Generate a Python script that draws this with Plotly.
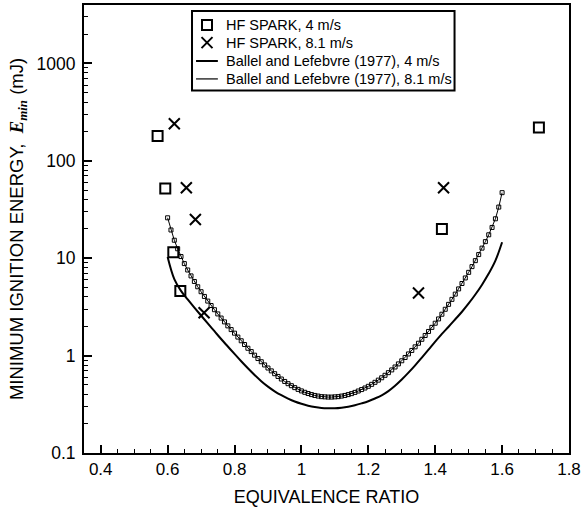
import plotly.graph_objects as go

# ---------------- data ----------------
phi_hf_4 = [0.57, 0.593, 0.617, 0.638, 1.42, 1.71]
e_hf_4 = [180, 52, 11.5, 4.6, 20, 220]

phi_hf_81 = [0.62, 0.656, 0.683, 0.709, 1.35, 1.425]
e_hf_81 = [240, 53, 25, 2.75, 4.4, 53]

phi_bl_4 = [0.60, 0.62, 0.64, 0.66, 0.68, 0.70, 0.72, 0.74, 0.76, 0.78,
            0.80, 0.82, 0.84, 0.86, 0.88, 0.90, 0.92, 0.94, 0.96, 0.98,
            1.00, 1.02, 1.04, 1.06, 1.08, 1.10, 1.12, 1.14, 1.16, 1.18,
            1.20, 1.22, 1.24, 1.26, 1.28, 1.30, 1.32, 1.34, 1.36, 1.38,
            1.40, 1.42, 1.44, 1.46, 1.48, 1.50, 1.52, 1.54, 1.56, 1.58, 1.60]
e_bl_4 = [10.3, 6.10, 4.62, 3.77, 3.11, 2.58, 2.14, 1.78, 1.48, 1.24,
          1.04, 0.875, 0.741, 0.632, 0.546, 0.480, 0.430, 0.392, 0.362, 0.338,
          0.320, 0.306, 0.296, 0.290, 0.288, 0.288, 0.292, 0.299, 0.309, 0.323,
          0.340, 0.363, 0.391, 0.432, 0.490, 0.568, 0.668, 0.794, 0.953, 1.15,
          1.39, 1.67, 1.98, 2.36, 2.82, 3.43, 4.24, 5.35, 6.95, 9.44, 14.6]

phi_bl_81 = [0.60, 0.61, 0.62, 0.63, 0.64, 0.65, 0.66, 0.67, 0.68, 0.69,
             0.70, 0.71, 0.72, 0.73, 0.74, 0.75, 0.76, 0.77, 0.78, 0.79,
             0.80, 0.81, 0.82, 0.83, 0.84, 0.85, 0.86, 0.87, 0.88, 0.89,
             0.90, 0.91, 0.92, 0.93, 0.94, 0.95, 0.96, 0.97, 0.98, 0.99,
             1.00, 1.01, 1.02, 1.03, 1.04, 1.05, 1.06, 1.07, 1.08, 1.09,
             1.10, 1.11, 1.12, 1.13, 1.14, 1.15, 1.16, 1.17, 1.18, 1.19,
             1.20, 1.21, 1.22, 1.23, 1.24, 1.25, 1.26, 1.27, 1.28, 1.29,
             1.30, 1.31, 1.32, 1.33, 1.34, 1.35, 1.36, 1.37, 1.38, 1.39,
             1.40, 1.41, 1.42, 1.43, 1.44, 1.45, 1.46, 1.47, 1.48, 1.49,
             1.50, 1.51, 1.52, 1.53, 1.54, 1.55, 1.56, 1.57, 1.58, 1.59, 1.60]
e_bl_81 = [26.0, 19.5, 15.3, 12.5, 10.4, 8.81, 7.57, 6.58, 5.77, 5.09,
           4.53, 4.05, 3.63, 3.27, 2.96, 2.68, 2.43, 2.22, 2.02, 1.85,
           1.70, 1.55, 1.42, 1.30, 1.19, 1.10, 1.01, 0.933, 0.865, 0.802,
           0.746, 0.697, 0.652, 0.611, 0.575, 0.543, 0.515, 0.491, 0.469, 0.450,
           0.434, 0.420, 0.408, 0.398, 0.390, 0.384, 0.379, 0.377, 0.375, 0.375,
           0.377, 0.379, 0.384, 0.390, 0.398, 0.407, 0.419, 0.433, 0.448, 0.465,
           0.484, 0.507, 0.532, 0.560, 0.592, 0.628, 0.668, 0.713, 0.764, 0.822,
           0.885, 0.957, 1.04, 1.13, 1.23, 1.34, 1.47, 1.61, 1.77, 1.95,
           2.15, 2.38, 2.66, 2.99, 3.36, 3.78, 4.28, 4.84, 5.50, 6.27,
           7.16, 8.20, 9.44, 10.9, 12.7, 14.8, 17.4, 20.7, 25.4, 33.5, 47.1]

series_names = ["HF SPARK, 4 m/s", "HF SPARK, 8.1 m/s",
                "Ballel and Lefebvre (1977), 4 m/s",
                "Ballel and Lefebvre (1977), 8.1 m/s"]

y_tick_vals = [0.1, 1, 10, 100, 1000]
y_tick_text = ["0.1", "1", "10", "100", "1000"]
y_minor_vals = [m * d for d in [0.1, 1, 10, 100, 1000] for m in range(2, 10)]
x_tick_vals = [0.4, 0.6, 0.8, 1.0, 1.2, 1.4, 1.6, 1.8]
x_tick_text = ["0.4", "0.6", "0.8", "1", "1.2", "1.4", "1.6", "1.8"]

FONT = "Liberation Sans, Arial, Helvetica, sans-serif"

# legend layout (fractions of the plotting area)
LEG_BOX = dict(x0=0.2227, x1=0.7640, y0=0.809, y1=0.9867)
LEG_ROWS = [0.9556, 0.9160, 0.8750, 0.8350]
LEG_SYM_X = 0.2536
LEG_LINE_X = [0.2310, 0.2760]
LEG_TEXT_X = 0.2887

sq_marker = dict(symbol="square-open", size=10, color="black",
                 line=dict(width=2, color="black"))
x_marker = dict(symbol="x-thin-open", size=11, color="black",
                line=dict(width=2, color="black"))

fig = go.Figure()
fig.add_trace(go.Scatter(x=phi_hf_4, y=e_hf_4, mode="markers",
                         name=series_names[0], marker=sq_marker))
fig.add_trace(go.Scatter(x=phi_hf_81, y=e_hf_81, mode="markers",
                         name=series_names[1], marker=x_marker))
fig.add_trace(go.Scatter(x=phi_bl_4, y=e_bl_4, mode="lines",
                         name=series_names[2],
                         line=dict(color="black", width=2, shape="spline")))
fig.add_trace(go.Scatter(x=phi_bl_81, y=e_bl_81, mode="lines+markers",
                         name=series_names[3],
                         line=dict(color="black", width=1),
                         marker=dict(symbol="square-open", size=4, color="black",
                                     line=dict(width=1, color="black"))))

# ---- hand-drawn legend (keys on an overlay axis spanning the plot area) ----
fig.add_trace(go.Scatter(x=[LEG_SYM_X], y=[LEG_ROWS[0]], xaxis="x2", yaxis="y2",
                         mode="markers", marker=sq_marker, hoverinfo="skip"))
fig.add_trace(go.Scatter(x=[LEG_SYM_X], y=[LEG_ROWS[1]], xaxis="x2", yaxis="y2",
                         mode="markers", marker=x_marker, hoverinfo="skip"))
fig.add_trace(go.Scatter(x=LEG_LINE_X, y=[LEG_ROWS[2]] * 2, xaxis="x2", yaxis="y2",
                         mode="lines", line=dict(color="black", width=2),
                         hoverinfo="skip"))
fig.add_trace(go.Scatter(x=LEG_LINE_X, y=[LEG_ROWS[3]] * 2, xaxis="x2", yaxis="y2",
                         mode="lines", line=dict(color="black", width=1.2),
                         hoverinfo="skip"))
fig.add_shape(type="rect", xref="paper", yref="paper", layer="below",
              line=dict(color="black", width=2), fillcolor="white", **LEG_BOX)
for name, yrow in zip(series_names, LEG_ROWS):
    fig.add_annotation(text=name, x=LEG_TEXT_X, y=yrow, xref="paper", yref="paper",
                       xanchor="left", yanchor="middle", showarrow=False,
                       font=dict(family=FONT, size=14.5, color="black"))

fig.update_layout(
    width=584, height=514,
    margin=dict(l=84, r=15, t=3, b=61),
    paper_bgcolor="white", plot_bgcolor="white",
    font=dict(family=FONT, size=17, color="black"),
    showlegend=False,
    xaxis=dict(
        range=[0.35, 1.8], showline=True, linewidth=2, linecolor="black",
        mirror=True, showgrid=False, zeroline=False,
        tickvals=x_tick_vals, ticktext=x_tick_text,
        ticks="inside", ticklen=8, tickwidth=1.5, tickcolor="black",
        tickfont=dict(family=FONT, size=17),
        minor=dict(dtick=0.05, tick0=0.35, ticks="inside", ticklen=4,
                   tickwidth=1, tickcolor="black", showgrid=False),
        title=dict(text="EQUIVALENCE RATIO", font=dict(family=FONT, size=18),
                   standoff=12),
    ),
    yaxis=dict(
        type="log", range=[-1, 3.6], showline=True, linewidth=2,
        linecolor="black", mirror=True, showgrid=False, zeroline=False,
        tickvals=y_tick_vals, ticktext=y_tick_text,
        ticks="inside", ticklen=8, tickwidth=1.5, tickcolor="black",
        tickfont=dict(family=FONT, size=17.5), ticklabelstandoff=3,
        minor=dict(tickvals=y_minor_vals, ticks="inside", ticklen=4,
                   tickwidth=1, tickcolor="black", showgrid=False),
        title=dict(text="MINIMUM IGNITION ENERGY,  "
                        "<span style='font-family:Liberation Serif'><b><i>E</i></b>"
                        "<sub><b><i>min</i></b></sub></span> (mJ)",
                   font=dict(family=FONT, size=18.5), standoff=8),
    ),
    xaxis2=dict(overlaying="x", range=[0, 1], visible=False, fixedrange=True),
    yaxis2=dict(overlaying="y", range=[0, 1], visible=False, fixedrange=True),
)

fig.write_html("out.html")
